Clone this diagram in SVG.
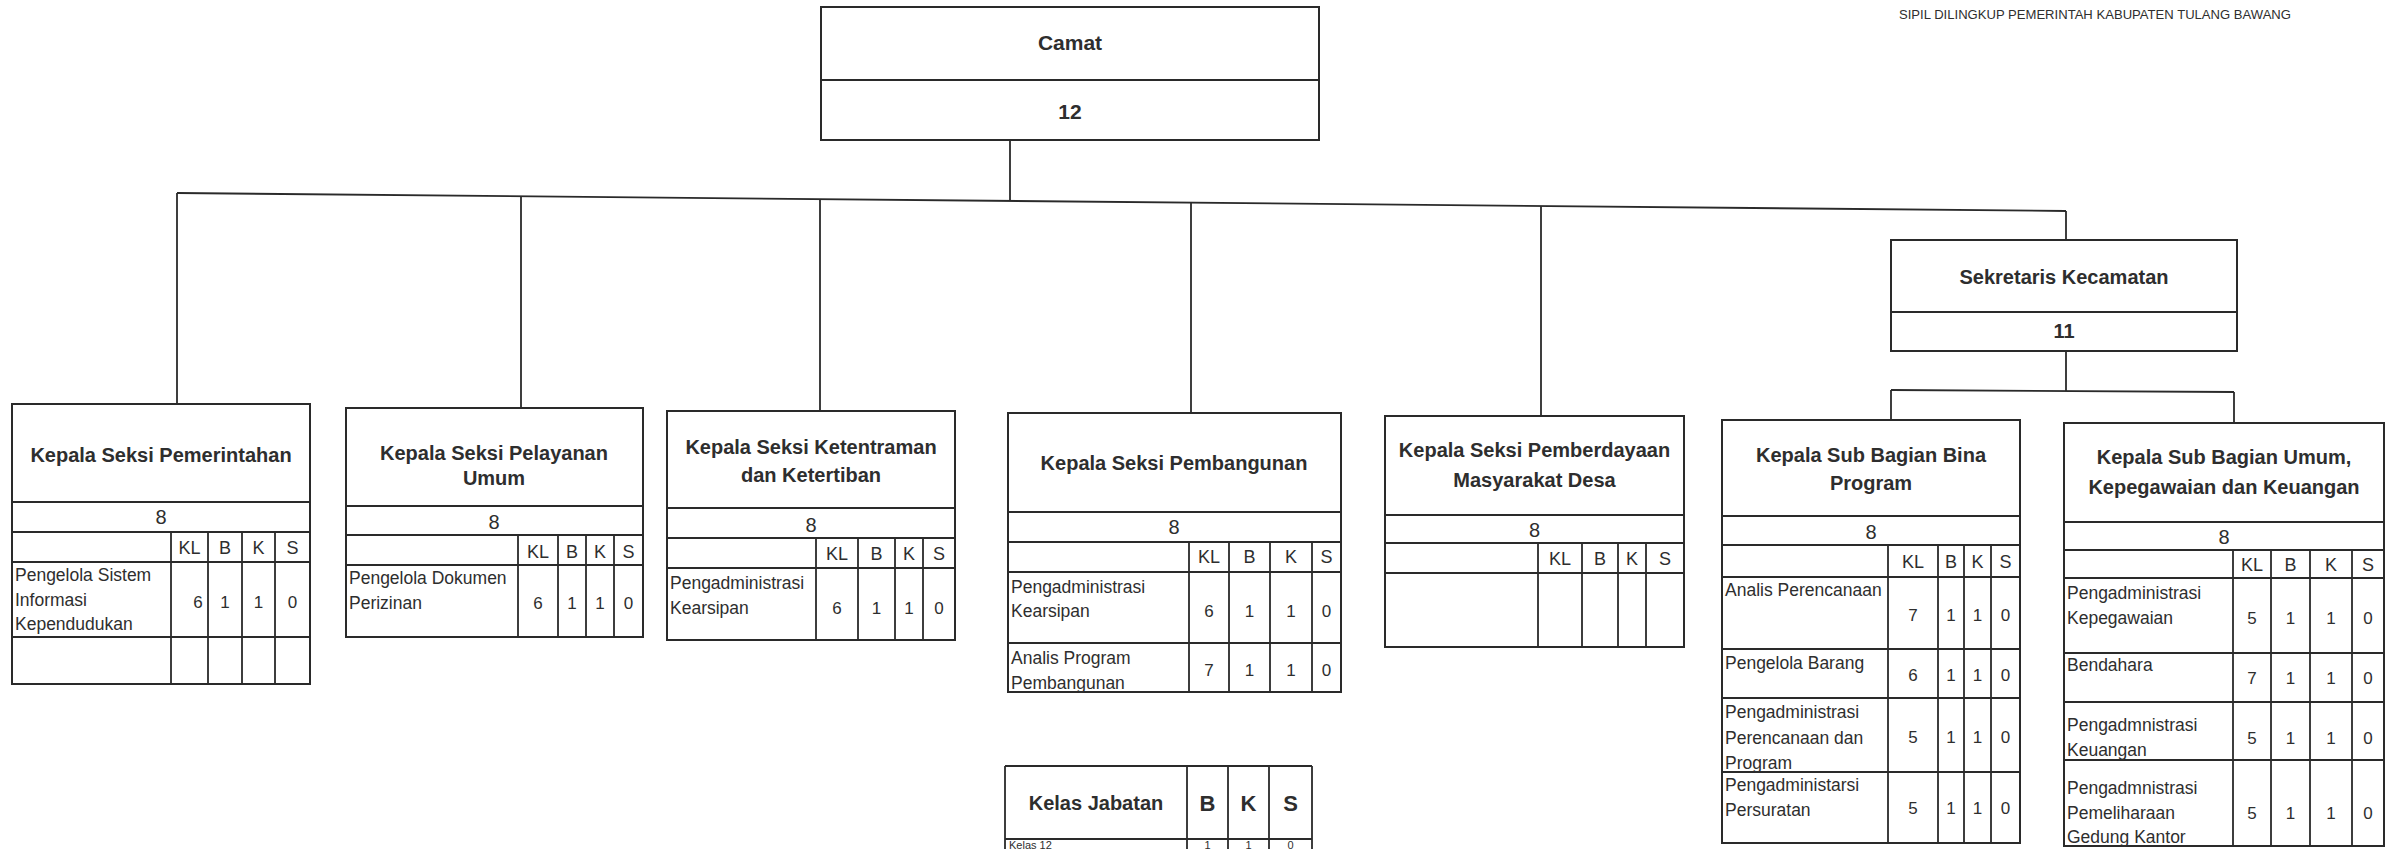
<svg xmlns="http://www.w3.org/2000/svg" width="2394" height="849" viewBox="0 0 2394 849">
<style>
.bx{fill:#fff;stroke:#2a2a2a;stroke-width:2}
.ln{stroke:#2a2a2a;stroke-width:1.8;fill:none}
.cn{stroke:#2a2a2a;stroke-width:1.8;fill:none}
text{font-family:"Liberation Sans",Arial,sans-serif;fill:#2e2e2e}
.ttl{font-weight:bold;font-size:20px;text-anchor:middle}
.big{font-weight:bold;font-size:21px;text-anchor:middle}
.num{font-size:20px;text-anchor:middle}
.hd{font-size:18px;text-anchor:middle}
.lbl{font-size:17.5px}
.val{font-size:17px;text-anchor:middle}
.kj{font-weight:bold;font-size:22px;text-anchor:middle}
.tiny{font-size:11px}
.tinyv{font-size:11px;text-anchor:middle}
</style>
<rect width="2394" height="849" fill="#fff"/>
<text x="1899" y="19" font-size="12.5" fill="#555" textLength="392" lengthAdjust="spacingAndGlyphs">SIPIL DILINGKUP PEMERINTAH KABUPATEN TULANG BAWANG</text>

<g id="connectors">
<path class="cn" d="M1010 140 V201"/>
<path class="cn" d="M177 193 L2066 211"/>
<path class="cn" d="M177 193 V404"/>
<path class="cn" d="M521 196 V408"/>
<path class="cn" d="M820 199 V411"/>
<path class="cn" d="M1191 203 V413"/>
<path class="cn" d="M1541 206 V416"/>
<path class="cn" d="M2066 211 V240"/>
<path class="cn" d="M2066 351 V391"/>
<path class="cn" d="M1891 390 L2234 392"/>
<path class="cn" d="M1891 390 V420"/>
<path class="cn" d="M2234 392 V423"/>
</g>

<g id="camat">
<rect class="bx" x="821" y="7" width="498" height="133"/>
<line class="ln" x1="821" y1="80" x2="1319" y2="80"/>
<text class="big" x="1070" y="50">Camat</text>
<text class="big" x="1070" y="119">12</text>
</g>

<g id="sekretaris">
<rect class="bx" x="1891" y="240" width="346" height="111"/>
<line class="ln" x1="1891" y1="312" x2="2237" y2="312"/>
<text class="ttl" x="2064" y="284">Sekretaris Kecamatan</text>
<text class="ttl" x="2064" y="338">11</text>
</g>

<g id="pemerintahan">
<rect class="bx" x="12" y="404" width="298" height="280"/>
<path class="ln" d="M12 502H310M12 532H310M12 562H310M12 637H310M171 532V684M208 532V684M242 532V684M275 532V684"/>
<text class="ttl" x="161" y="462">Kepala Seksi Pemerintahan</text>
<text class="num" x="161" y="524">8</text>
<text class="hd" x="189.5" y="554">KL</text><text class="hd" x="225" y="554">B</text><text class="hd" x="258.5" y="554">K</text><text class="hd" x="292.5" y="554">S</text>
<text class="lbl" x="15" y="581">Pengelola Sistem</text>
<text class="lbl" x="15" y="606">Informasi</text>
<text class="lbl" x="15" y="630">Kependudukan</text>
<text class="val" x="198" y="608">6</text><text class="val" x="225" y="608">1</text><text class="val" x="258.5" y="608">1</text><text class="val" x="292.5" y="608">0</text>
</g>

<g id="pelayanan">
<rect class="bx" x="346" y="408" width="297" height="229"/>
<path class="ln" d="M346 506H643M346 535H643M346 565H643M518 535V637M558 535V637M586 535V637M614 535V637"/>
<text class="ttl" x="494" y="460">Kepala Seksi Pelayanan</text>
<text class="ttl" x="494" y="485">Umum</text>
<text class="num" x="494" y="529">8</text>
<text class="hd" x="538" y="558">KL</text><text class="hd" x="572" y="558">B</text><text class="hd" x="600" y="558">K</text><text class="hd" x="628.5" y="558">S</text>
<text class="lbl" x="349" y="584">Pengelola Dokumen</text>
<text class="lbl" x="349" y="609">Perizinan</text>
<text class="val" x="538" y="609">6</text><text class="val" x="572" y="609">1</text><text class="val" x="600" y="609">1</text><text class="val" x="628.5" y="609">0</text>
</g>

<g id="ketentraman">
<rect class="bx" x="667" y="411" width="288" height="229"/>
<path class="ln" d="M667 508H955M667 538H955M667 568H955M816 538V640M858 538V640M895 538V640M923 538V640"/>
<text class="ttl" x="811" y="454">Kepala Seksi Ketentraman</text>
<text class="ttl" x="811" y="482">dan Ketertiban</text>
<text class="num" x="811" y="532">8</text>
<text class="hd" x="837" y="560">KL</text><text class="hd" x="876.5" y="560">B</text><text class="hd" x="909" y="560">K</text><text class="hd" x="939" y="560">S</text>
<text class="lbl" x="670" y="589">Pengadministrasi</text>
<text class="lbl" x="670" y="614">Kearsipan</text>
<text class="val" x="837" y="614">6</text><text class="val" x="876.5" y="614">1</text><text class="val" x="909" y="614">1</text><text class="val" x="939" y="614">0</text>
</g>

<g id="pembangunan">
<rect class="bx" x="1008" y="413" width="333" height="279"/>
<path class="ln" d="M1008 512H1341M1008 542H1341M1008 572H1341M1008 643H1341M1189 542V692M1229 542V692M1270 542V692M1312 542V692"/>
<text class="ttl" x="1174" y="470">Kepala Seksi Pembangunan</text>
<text class="num" x="1174" y="534">8</text>
<text class="hd" x="1209" y="563">KL</text><text class="hd" x="1249.5" y="563">B</text><text class="hd" x="1291" y="563">K</text><text class="hd" x="1326.5" y="563">S</text>
<text class="lbl" x="1011" y="593">Pengadministrasi</text>
<text class="lbl" x="1011" y="617">Kearsipan</text>
<text class="val" x="1209" y="617">6</text><text class="val" x="1249.5" y="617">1</text><text class="val" x="1291" y="617">1</text><text class="val" x="1326.5" y="617">0</text>
<text class="lbl" x="1011" y="664">Analis Program</text>
<text class="lbl" x="1011" y="689">Pembangunan</text>
<text class="val" x="1209" y="676">7</text><text class="val" x="1249.5" y="676">1</text><text class="val" x="1291" y="676">1</text><text class="val" x="1326.5" y="676">0</text>
</g>

<g id="pemberdayaan">
<rect class="bx" x="1385" y="416" width="299" height="231"/>
<path class="ln" d="M1385 515H1684M1385 543H1684M1385 573H1684M1538 543V647M1582 543V647M1618 543V647M1646 543V647"/>
<text class="ttl" x="1534.5" y="457">Kepala Seksi Pemberdayaan</text>
<text class="ttl" x="1534.5" y="487">Masyarakat Desa</text>
<text class="num" x="1534.5" y="537">8</text>
<text class="hd" x="1560" y="565">KL</text><text class="hd" x="1600" y="565">B</text><text class="hd" x="1632" y="565">K</text><text class="hd" x="1665" y="565">S</text>
</g>

<g id="bina-program">
<rect class="bx" x="1722" y="420" width="298" height="423"/>
<path class="ln" d="M1722 516H2020M1722 545H2020M1722 577H2020M1722 649H2020M1722 698H2020M1722 772H2020M1888 545V843M1938 545V843M1964 545V843M1991 545V843"/>
<text class="ttl" x="1871" y="462">Kepala Sub Bagian Bina</text>
<text class="ttl" x="1871" y="490">Program</text>
<text class="num" x="1871" y="539">8</text>
<text class="hd" x="1913" y="568">KL</text><text class="hd" x="1951" y="568">B</text><text class="hd" x="1977.5" y="568">K</text><text class="hd" x="2005.5" y="568">S</text>
<text class="lbl" x="1725" y="596">Analis Perencanaan</text>
<text class="val" x="1913" y="621">7</text><text class="val" x="1951" y="621">1</text><text class="val" x="1977.5" y="621">1</text><text class="val" x="2005.5" y="621">0</text>
<text class="lbl" x="1725" y="669">Pengelola Barang</text>
<text class="val" x="1913" y="681">6</text><text class="val" x="1951" y="681">1</text><text class="val" x="1977.5" y="681">1</text><text class="val" x="2005.5" y="681">0</text>
<text class="lbl" x="1725" y="718">Pengadministrasi</text>
<text class="lbl" x="1725" y="744">Perencanaan dan</text>
<text class="lbl" x="1725" y="769">Program</text>
<text class="val" x="1913" y="743">5</text><text class="val" x="1951" y="743">1</text><text class="val" x="1977.5" y="743">1</text><text class="val" x="2005.5" y="743">0</text>
<text class="lbl" x="1725" y="791">Pengadministarsi</text>
<text class="lbl" x="1725" y="816">Persuratan</text>
<text class="val" x="1913" y="814">5</text><text class="val" x="1951" y="814">1</text><text class="val" x="1977.5" y="814">1</text><text class="val" x="2005.5" y="814">0</text>
</g>

<g id="umum-kepegawaian-keuangan">
<rect class="bx" x="2064" y="423" width="320" height="423"/>
<path class="ln" d="M2064 522H2384M2064 550H2384M2064 578H2384M2064 653H2384M2064 702H2384M2064 760H2384M2233 550V846M2271 550V846M2310 550V846M2352 550V846"/>
<text class="ttl" x="2224" y="464">Kepala Sub Bagian Umum,</text>
<text class="ttl" x="2224" y="494">Kepegawaian dan Keuangan</text>
<text class="num" x="2224" y="544">8</text>
<text class="hd" x="2252" y="571">KL</text><text class="hd" x="2290.5" y="571">B</text><text class="hd" x="2331" y="571">K</text><text class="hd" x="2368" y="571">S</text>
<text class="lbl" x="2067" y="599">Pengadministrasi</text>
<text class="lbl" x="2067" y="624">Kepegawaian</text>
<text class="val" x="2252" y="624">5</text><text class="val" x="2290.5" y="624">1</text><text class="val" x="2331" y="624">1</text><text class="val" x="2368" y="624">0</text>
<text class="lbl" x="2067" y="671">Bendahara</text>
<text class="val" x="2252" y="684">7</text><text class="val" x="2290.5" y="684">1</text><text class="val" x="2331" y="684">1</text><text class="val" x="2368" y="684">0</text>
<text class="lbl" x="2067" y="731">Pengadmnistrasi</text>
<text class="lbl" x="2067" y="756">Keuangan</text>
<text class="val" x="2252" y="744">5</text><text class="val" x="2290.5" y="744">1</text><text class="val" x="2331" y="744">1</text><text class="val" x="2368" y="744">0</text>
<text class="lbl" x="2067" y="794">Pengadmnistrasi</text>
<text class="lbl" x="2067" y="819">Pemeliharaan</text>
<text class="lbl" x="2067" y="843">Gedung Kantor</text>
<text class="val" x="2252" y="819">5</text><text class="val" x="2290.5" y="819">1</text><text class="val" x="2331" y="819">1</text><text class="val" x="2368" y="819">0</text>
</g>

<g id="kelas-jabatan">
<path class="ln" d="M1005 766H1312M1005 839H1312M1005 766V852M1187 766V852M1228 766V852M1269 766V852M1312 766V852"/>
<text class="ttl" x="1096" y="810">Kelas Jabatan</text>
<text class="kj" x="1207.5" y="811">B</text><text class="kj" x="1248.5" y="811">K</text><text class="kj" x="1290.5" y="811">S</text>
<text class="tiny" x="1009" y="848.5">Kelas 12</text>
<text class="tinyv" x="1207.5" y="848.5">1</text><text class="tinyv" x="1248.5" y="848.5">1</text><text class="tinyv" x="1290.5" y="848.5">0</text>
</g>
</svg>
